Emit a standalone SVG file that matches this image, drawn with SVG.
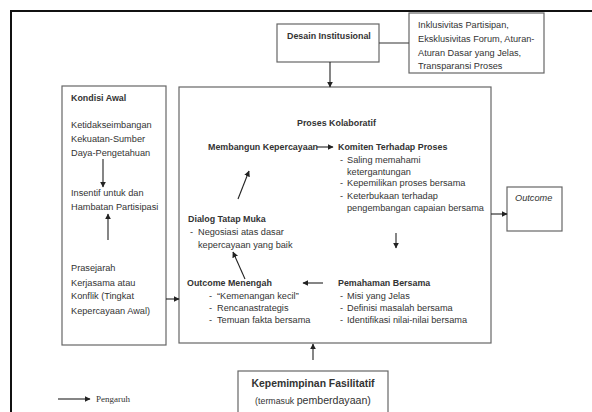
<svg xmlns="http://www.w3.org/2000/svg" width="592" height="412" viewBox="0 0 592 412">
<style>
.box{fill:#fff;stroke:#666;stroke-width:1.2}
.t{font-family:"Liberation Sans",Arial,sans-serif;font-size:9.2px;fill:#333}
.b{font-family:"Liberation Sans",Arial,sans-serif;font-size:8.9px;font-weight:bold;fill:#333}
.c{stroke:#222;stroke-width:1.1;fill:none;marker-end:url(#ah)}
.l{stroke:#444;stroke-width:1.1;fill:none}
</style>
<defs>
<marker id="ah" viewBox="0 0 10 10" refX="9" refY="5" markerWidth="6" markerHeight="6" markerUnits="userSpaceOnUse" orient="auto">
<path d="M0,0 L10,5 L0,10 z" fill="#222"/>
</marker>
</defs>
<rect x="0" y="0" width="592" height="412" fill="#fff"/>
<rect x="11" y="11" width="600" height="420" fill="none" stroke="#111" stroke-width="2"/>

<g id="desain">
<rect class="box" x="277" y="24" width="102" height="38"/>
<text class="b" x="287" y="39">Desain Institusional</text>
</g>
<g id="inklusivitas">
<rect class="box" x="409" y="13" width="135" height="60"/>
<text class="t" x="418" y="28">Inklusivitas Partisipan,</text>
<text class="t" x="418" y="42">Eksklusivitas Forum, Aturan-</text>
<text class="t" x="418" y="56">Aturan Dasar yang Jelas,</text>
<text class="t" x="418" y="69">Transparansi Proses</text>
</g>
<g id="kondisi">
<rect class="box" x="62" y="86" width="104" height="259"/>
<text class="b" x="71" y="101">Kondisi Awal</text>
<text class="t" x="71" y="128">Ketidakseimbangan</text>
<text class="t" x="71" y="142">Kekuatan-Sumber</text>
<text class="t" x="71" y="156">Daya-Pengetahuan</text>
<text class="t" x="71" y="196">Insentif untuk  dan</text>
<text class="t" x="71" y="210">Hambatan Partisipasi</text>
<text class="t" x="71" y="271">Prasejarah</text>
<text class="t" x="71" y="286">Kerjasama atau</text>
<text class="t" x="71" y="299">Konflik (Tingkat</text>
<text class="t" x="71" y="314">Kepercayaan Awal)</text>
</g>
<g id="proses">
<rect class="box" x="179" y="87" width="312" height="256"/>
<text class="b" x="297" y="126">Proses Kolaboratif</text>
<text class="b" x="208" y="150">Membangun Kepercayaan</text>
<text class="b" x="338" y="150">Komiten Terhadap Proses</text>
<text class="t" x="340" y="163">-</text>
<text class="t" x="347" y="163">Saling memahami</text>
<text class="t" x="347" y="175">ketergantungan</text>
<text class="t" x="340" y="186">-</text>
<text class="t" x="347" y="186">Kepemilikan proses bersama</text>
<text class="t" x="340" y="199">-</text>
<text class="t" x="347" y="199">Keterbukaan terhadap</text>
<text class="t" x="347" y="211">pengembangan capaian bersama</text>
<text class="b" x="188" y="222">Dialog Tatap Muka</text>
<text class="t" x="190" y="235">-</text>
<text class="t" x="198" y="235">Negosiasi atas dasar</text>
<text class="t" x="198" y="248">kepercayaan yang baik</text>
<text class="b" x="187" y="286">Outcome Menengah</text>
<text class="t" x="209" y="299">-</text>
<text class="t" x="217" y="299">“Kemenangan kecil”</text>
<text class="t" x="209" y="311">-</text>
<text class="t" x="217" y="311">Rencanastrategis</text>
<text class="t" x="209" y="323">-</text>
<text class="t" x="217" y="323">Temuan fakta bersama</text>
<text class="b" x="338" y="286">Pemahaman Bersama</text>
<text class="t" x="340" y="299">-</text>
<text class="t" x="347" y="299">Misi yang Jelas</text>
<text class="t" x="340" y="311">-</text>
<text class="t" x="347" y="311">Definisi masalah bersama</text>
<text class="t" x="340" y="323">-</text>
<text class="t" x="347" y="323">Identifikasi nilai-nilai bersama</text>
</g>
<g id="outcome">
<rect class="box" x="507" y="187" width="55" height="44"/>
<text class="t" x="515" y="201" font-style="italic">Outcome</text>
</g>
<g id="kepemimpinan">
<rect class="box" x="238" y="371" width="150" height="50"/>
<text x="313" y="387" text-anchor="middle" font-family="Liberation Sans, Arial, sans-serif" font-size="10.4" font-weight="bold" fill="#333">Kepemimpinan Fasilitatif</text>
<text x="313" y="404" text-anchor="middle" font-family="Liberation Sans, Arial, sans-serif" fill="#333"><tspan font-size="8.8">(termasuk </tspan><tspan font-size="10.6">pemberdayaan)</tspan></text>
</g>
<g id="legend">
<line class="c" x1="58" y1="399" x2="90" y2="399"/>
<text x="96" y="402" font-family="Liberation Serif, serif" font-size="9" fill="#333">Pengaruh</text>
</g>
<g id="connectors">
<line class="l" x1="379" y1="43" x2="409" y2="43"/>
<line class="c" x1="330" y1="62" x2="330" y2="87"/>
<line class="c" x1="103" y1="159" x2="103" y2="187"/>
<line class="c" x1="108" y1="240" x2="108" y2="214"/>
<line class="c" x1="166" y1="299" x2="179" y2="299"/>
<line class="c" x1="491" y1="214" x2="507" y2="214"/>
<line class="c" x1="317" y1="147" x2="333" y2="147"/>
<line class="c" x1="396" y1="233" x2="396" y2="248"/>
<line class="c" x1="323" y1="283" x2="303" y2="283"/>
<line class="c" x1="245" y1="279" x2="233" y2="252"/>
<line class="c" x1="238" y1="199" x2="249" y2="171"/>
<line class="c" x1="313" y1="360" x2="313" y2="344"/>
</g>
</svg>
